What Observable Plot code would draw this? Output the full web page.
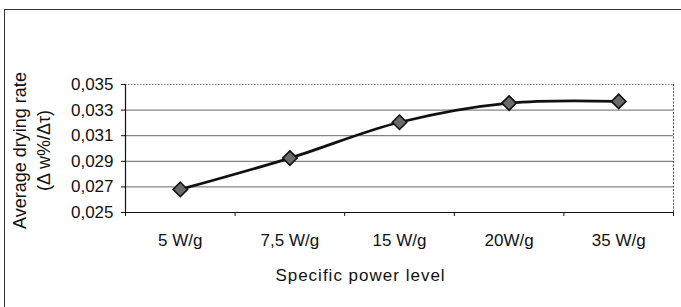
<!DOCTYPE html>
<html>
<head>
<meta charset="utf-8">
<script src="https://cdn.jsdelivr.net/npm/d3@7"></script>
<script src="https://cdn.jsdelivr.net/npm/@observablehq/plot@0.6"></script>
<style>
  body { margin: 0; background: #fff; }
  #wrap { position: relative; width: 681px; height: 307px; overflow: hidden; }
  #frame { position: absolute; left: 4px; top: 9px; width: 700px; height: 400px;
           border-top: 1.5px solid #333; border-left: 1.5px solid #333; pointer-events: none; }
</style>
</head>
<body>
<div id="wrap"><div id="frame"></div></div>
<script>
const categories = ["5 W/g", "7,5 W/g", "15 W/g", "20W/g", "35 W/g"];
const dryingRate = [0.0268, 0.02925, 0.03205, 0.03355, 0.03368];
const yTicks = [0.025, 0.027, 0.029, 0.031, 0.033, 0.035];
const yLabel = "Average drying rate\n(Δ w%/Δτ)";
const xLabel = "Specific power level";

const data = categories.map((c, i) => ({cat: c, idx: i + 0.5, v: dryingRate[i]}));
const boundaries = d3.range(categories.length + 1);
const centers = categories.map((c, i) => i + 0.5);
const fmt = v => d3.format(".3f")(v).replace(".", ",");

const chart = Plot.plot({
  width: 681,
  height: 307,
  marginLeft: 125,
  marginRight: 8,
  marginTop: 84,
  marginBottom: 95,
  style: {fontFamily: "'Liberation Sans', Arial, sans-serif", fontSize: "17px", color: "#111", background: "transparent"},
  x: {domain: [0, categories.length]},
  y: {domain: [0.025, 0.035]},
  marks: [
    Plot.ruleY(yTicks.slice(1, -1), {stroke: "#666", strokeWidth: 1}),
    Plot.ruleY([yTicks[yTicks.length - 1]], {stroke: "#777", strokeWidth: 1, strokeDasharray: "1.5,1.5"}),
    Plot.ruleX([categories.length], {stroke: "#555", strokeWidth: 1, strokeDasharray: "2,1.5"}),
    Plot.axisY({ticks: yTicks, tickFormat: fmt, tickSize: 4, tickPadding: 8, label: null, fontSize: 17, stroke: "#111"}),
    Plot.axisX({ticks: boundaries, tickFormat: () => "", tickSize: 4, label: null, stroke: "#111"}),
    Plot.axisX({ticks: centers, tickFormat: i => categories[Math.floor(i)], tickSize: 0, tickPadding: 21, label: null, fontSize: 17}),
    Plot.ruleX([0], {stroke: "#111", strokeWidth: 1.2}),
    Plot.ruleY([0.025], {stroke: "#111", strokeWidth: 1.2}),
    Plot.line(data, {x: "idx", y: "v", stroke: "#111", strokeWidth: 2.8, curve: "catmull-rom"}),
    Plot.dot(data, {x: "idx", y: "v", symbol: "diamond2", r: 6.5, fill: "#6a6a6a", stroke: "#111", strokeWidth: 1.6}),
    Plot.text([yLabel], {frameAnchor: "left", rotate: -90, dx: -95, dy: 2, lineHeight: 1.35, textAnchor: "middle", lineAnchor: "middle", fontSize: 18, fill: "#111"}),
    Plot.text([xLabel], {frameAnchor: "bottom", dx: -39, dy: 63, lineAnchor: "middle", textAnchor: "middle", fontSize: 17, fill: "#111"})
  ]
});
chart.querySelectorAll("text").forEach(t => { if (t.textContent === xLabel) t.style.letterSpacing = "1px"; });
document.getElementById("wrap").prepend(chart);
</script>
</body>
</html>
